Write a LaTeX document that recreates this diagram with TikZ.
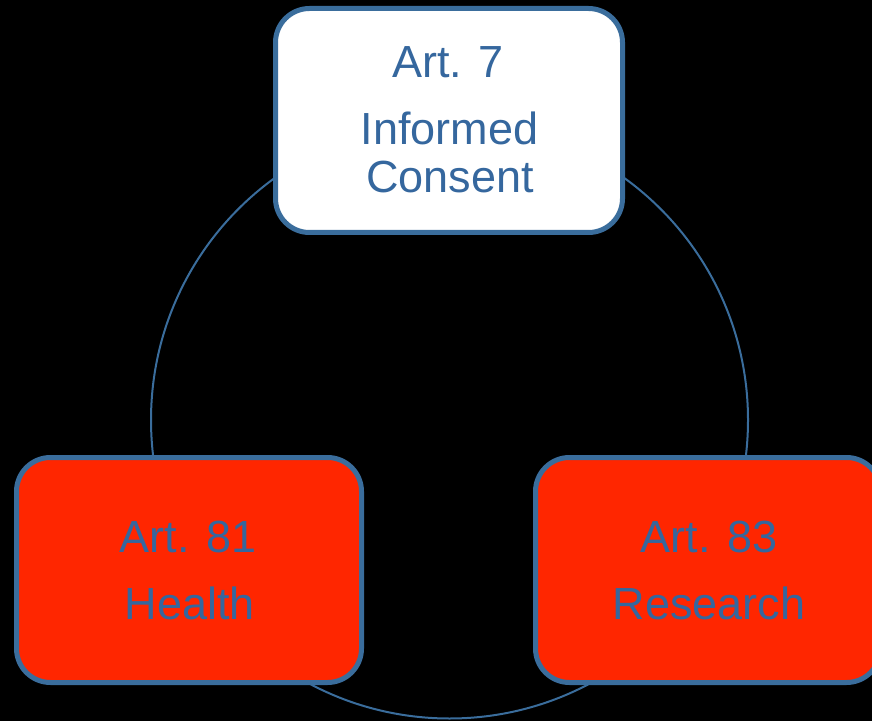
\documentclass[tikz,border=0pt]{standalone}
\usepackage{fontspec}
\setmainfont{Liberation Sans}
\definecolor{bordblue}{HTML}{3A6D9C}
\definecolor{txtblue}{HTML}{35679E}
\definecolor{boxred}{HTML}{FF2600}
\tikzset{
  artbox/.style={draw=bordblue, line width=5pt, rounded corners=34pt, inner sep=0pt},
  lbl/.style={anchor=base, text=txtblue, font=\fontsize{45}{54}\selectfont, inner sep=0pt}
}
\begin{document}
\begin{tikzpicture}[x=1pt,y=1pt]
\fill[black] (0,0) rectangle (872,721);
\useasboundingbox (0,0) rectangle (872,721);
\node (ring) [draw=bordblue, line width=2pt, circle, minimum size=597pt, inner sep=0pt] at (449.5,301) {};
\node (top) [artbox, fill=white, minimum width=347pt, minimum height=224pt] at (449,600.5) {};
\node (left) [artbox, fill=boxred, minimum width=345pt, minimum height=225pt] at (189,151) {};
\node (right) [artbox, fill=boxred, minimum width=345pt, minimum height=225pt] at (708,151) {};
\node (t1) [lbl] at (448,643) {Art. 7};
\node (t2) [lbl] at (449.5,576) {Informed};
\node (t3) [lbl] at (450,528) {Consent};
\node (l1) [lbl] at (188,169) {Art. 81};
\node (l2) [lbl] at (190,102) {Health};
\node (r1) [lbl] at (709,169) {Art. 83};
\node (r2) [lbl] at (709,102) {Research};
\end{tikzpicture}
\end{document}
